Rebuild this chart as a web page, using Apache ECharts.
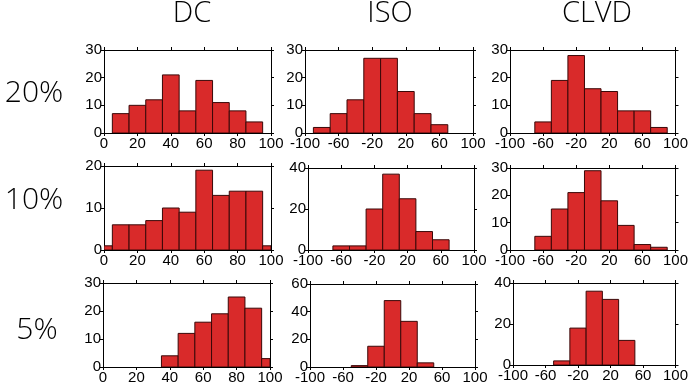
<!DOCTYPE html>
<html>
<head>
<meta charset="utf-8">
<script src="https://cdn.jsdelivr.net/npm/echarts@6/dist/echarts.min.js"></script>
<style>
html,body{margin:0;padding:0;background:#fff;}
#c{width:691px;height:385px;}
</style>
</head>
<body>
<div id="c"></div>
<script>
// ---- data ----
const columnTitles = ['DC', 'ISO', 'CLVD'];
const rowLabels = ['20%', '10%', '5%'];

const dcBins = [0, 10, 20, 30, 40, 50, 60, 70, 80, 90, 100];
const dc20 = [0, 7, 10, 12, 21, 8, 19, 11, 8, 4, 0];
const dc10 = [1, 6, 6, 7, 10, 9, 19, 13, 14, 14, 1];
const dc5  = [0, 0, 0, 0, 4, 12, 16, 19, 25, 21, 3];

const isoBins = [-80, -60, -40, -20, 0, 20, 40, 60, 80];
const iso20 = [2, 7, 12, 27, 27, 15, 7, 3, 0];
const iso10 = [0, 2, 2, 20, 37, 25, 9, 5, 0];
const iso5  = [0, 0, 1, 15, 48, 33, 3, 0, 0];

const clvdBins = [-80, -60, -40, -20, 0, 20, 40, 60, 80];
const clvd20 = [0, 4, 19, 28, 16, 15, 8, 8, 2];
const clvd10 = [0, 5, 15, 21, 29, 18, 9, 2, 1];
const clvd5  = [0, 0, 2, 18, 36, 32, 12, 0, 0];

const dcXTicks = {min: 0, max: 100, interval: 20};
const mtXTicks = {min: -100, max: 100, interval: 40};

// y-axis ranges per panel [max, interval]
const yRanges = [
  [30, 10], [30, 10], [30, 10],
  [20, 10], [40, 20], [30, 10],
  [30, 10], [60, 20], [40, 20]
];

// ---- layout ----
const grids = [
  {left: 104, top: 50, width: 167, height: 83},
  {left: 305, top: 50, width: 168, height: 83},
  {left: 510, top: 50, width: 167, height: 83},
  {left: 104, top: 166, width: 167, height: 84},
  {left: 308, top: 168, width: 166, height: 82},
  {left: 510, top: 168, width: 167, height: 82},
  {left: 103, top: 283, width: 167, height: 84},
  {left: 310, top: 284, width: 165, height: 83},
  {left: 513, top: 283, width: 166, height: 82}
];

const panels = [
  {bins: dcBins, vals: dc20, w: 10, x: dcXTicks},
  {bins: isoBins, vals: iso20, w: 20, x: mtXTicks},
  {bins: clvdBins, vals: clvd20, w: 20, x: mtXTicks},
  {bins: dcBins, vals: dc10, w: 10, x: dcXTicks},
  {bins: isoBins, vals: iso10, w: 20, x: mtXTicks},
  {bins: clvdBins, vals: clvd10, w: 20, x: mtXTicks},
  {bins: dcBins, vals: dc5, w: 10, x: dcXTicks},
  {bins: isoBins, vals: iso5, w: 20, x: mtXTicks},
  {bins: clvdBins, vals: clvd5, w: 20, x: mtXTicks}
];

const labelFont = '"Liberation Sans Narrow", "Liberation Sans", Arial, sans-serif';
const bigFont = '"Open Sans", "DejaVu Sans", sans-serif';

const xAxes = [], yAxes = [], series = [];
const lineStyle = {color: '#000', width: 1};

panels.forEach((p, i) => {
  const [ymax, yint] = yRanges[i];
  xAxes.push({
    type: 'value', gridIndex: i, position: 'bottom',
    min: p.x.min, max: p.x.max, interval: p.x.interval,
    axisLine: {show: true, lineStyle}, axisTick: {show: true, inside: false, length: 3, lineStyle},
    axisLabel: {show: true, color: '#000', fontFamily: labelFont, fontSize: 15, margin: 3, hideOverlap: false, showMinLabel: true, showMaxLabel: true},
    splitLine: {show: false}
  });
  xAxes.push({
    type: 'value', gridIndex: i, position: 'top',
    min: p.x.min, max: p.x.max, interval: p.x.interval,
    axisLine: {show: true, onZero: false, lineStyle}, axisTick: {show: true, inside: false, length: 3, lineStyle},
    axisLabel: {show: false}, splitLine: {show: false}
  });
  yAxes.push({
    type: 'value', gridIndex: i, position: 'left',
    min: 0, max: ymax, interval: yint,
    axisLine: {show: true, onZero: false, lineStyle}, axisTick: {show: true, inside: false, length: 3, lineStyle},
    axisLabel: {show: true, color: '#000', fontFamily: labelFont, fontSize: 15, margin: 2, showMinLabel: true, showMaxLabel: true},
    splitLine: {show: false}
  });
  yAxes.push({
    type: 'value', gridIndex: i, position: 'right',
    min: 0, max: ymax, interval: yint,
    axisLine: {show: true, onZero: false, lineStyle}, axisTick: {show: true, inside: false, length: 3, lineStyle},
    axisLabel: {show: false}, splitLine: {show: false}
  });

  const data = [];
  p.bins.forEach((c, k) => {
    const v = p.vals[k];
    if (v > 0) {
      const x0 = Math.max(p.x.min, c - p.w / 2);
      const x1 = Math.min(p.x.max, c + p.w / 2);
      data.push([x0, x1, v]);
    }
  });
  series.push({
    type: 'custom',
    xAxisIndex: i * 2,
    yAxisIndex: i * 2,
    clip: true,
    encode: {x: [0, 1], y: 2},
    data: data,
    renderItem: function (params, api) {
      const p0 = api.coord([api.value(0), 0]);
      const p1 = api.coord([api.value(1), api.value(2)]);
      return {
        type: 'rect',
        shape: {x: p0[0], y: p1[1], width: p1[0] - p0[0], height: p0[1] - p1[1]},
        style: {fill: '#d92a2a', stroke: '#3a0808', lineWidth: 1}
      };
    },
    silent: true
  });
});

const graphics = [];
const titleX = [192, 390, 597];
columnTitles.forEach((t, i) => {
  graphics.push({
    type: 'text', x: titleX[i], y: 14,
    style: {text: t, fill: '#000', font: '300 29px ' + bigFont, textAlign: 'center', textVerticalAlign: 'middle'}
  });
});
const rowY = [93, 200, 330];
const rowX = [34, 34, 37];
rowLabels.forEach((t, i) => {
  graphics.push({
    type: 'text', x: rowX[i], y: rowY[i],
    style: {text: t, fill: '#000', font: '300 30px ' + bigFont, textAlign: 'center', textVerticalAlign: 'middle'}
  });
});

const chart = echarts.init(document.getElementById('c'), null, {renderer: 'canvas'});
chart.setOption({
  animation: false,
  backgroundColor: '#fff',
  grid: grids.map(g => Object.assign({containLabel: false}, g)),
  xAxis: xAxes,
  yAxis: yAxes,
  series: series,
  graphic: graphics
});
</script>
</body>
</html>
